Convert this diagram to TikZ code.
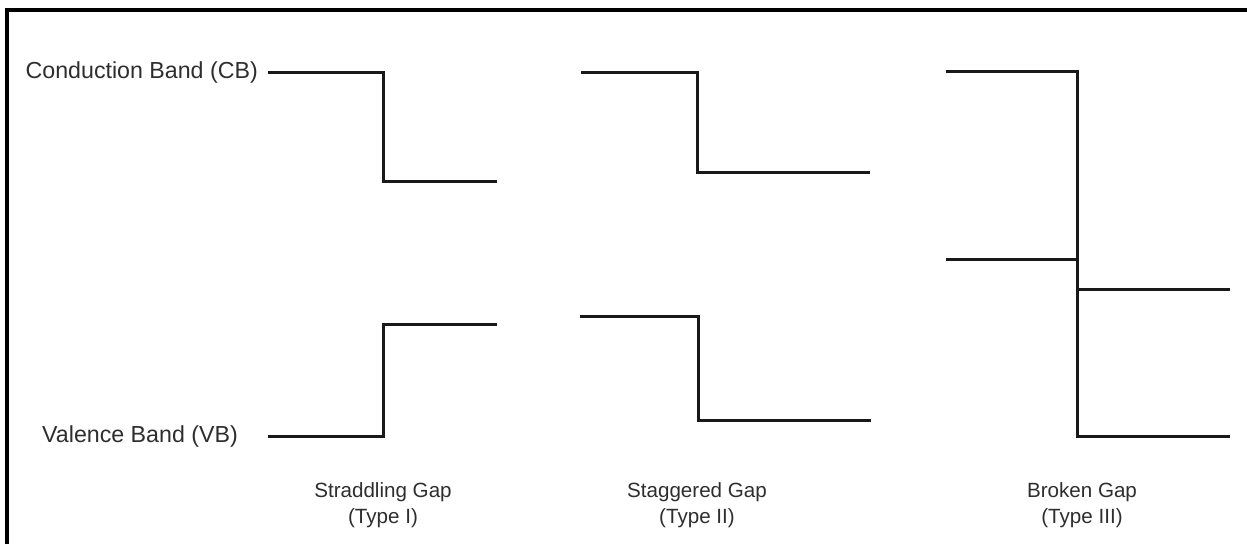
\documentclass[tikz,border=0pt]{standalone}
\usepackage{fontspec}
\setmainfont{Liberation Sans}
\begin{document}
\begin{tikzpicture}[x=1pt,y=-1pt,
  band/.style={line width=3pt, line join=miter, draw=black!90},
  frameline/.style={line width=3.2pt, draw=black},
  sidelbl/.style={font=\fontsize{23.2}{28}\selectfont, text=black!82, inner sep=0pt},
  caplbl/.style={font=\fontsize{20.6}{26}\selectfont, align=center, text=black!82, inner sep=0pt}]
\useasboundingbox (0,0) rectangle (1247,544);
\fill[white] (0,0) rectangle (1247,544);
% partial frame
\coordinate (fb) at (7,544);
\coordinate (fc) at (7,10);
\coordinate (fr) at (1247,10);
\draw[frameline] (fb) -- (fc) -- (fr);
% side labels
\node[sidelbl, anchor=east] (cb) at (258,72) {Conduction Band (CB)};
\node[sidelbl, anchor=east] (vb) at (238,436) {Valence Band (VB)};
% captions
\node[caplbl] (c1) at (383,505) {Straddling Gap\\(Type I)};
\node[caplbl] (c2) at (697,505) {Staggered Gap\\(Type II)};
\node[caplbl] (c3) at (1082,505) {Broken Gap\\(Type III)};
% Type I
\coordinate (a1) at (268,72);
\coordinate (a2) at (383,72);
\coordinate (a3) at (383,181);
\coordinate (a4) at (497,181);
\draw[band] (a1) -- (a2) -- (a3) -- (a4);
\coordinate (b1) at (268,436);
\coordinate (b2) at (383,436);
\coordinate (b3) at (383,324);
\coordinate (b4) at (497,324);
\draw[band] (b1) -- (b2) -- (b3) -- (b4);
% Type II
\coordinate (d1) at (581,72);
\coordinate (d2) at (697,72);
\coordinate (d3) at (697,172);
\coordinate (d4) at (870,172);
\draw[band] (d1) -- (d2) -- (d3) -- (d4);
\coordinate (e1) at (580,316);
\coordinate (e2) at (698,316);
\coordinate (e3) at (698,420);
\coordinate (e4) at (871,420);
\draw[band] (e1) -- (e2) -- (e3) -- (e4);
% Type III
\coordinate (g1) at (946,71);
\coordinate (g2) at (1077,71);
\coordinate (g3) at (1077,436);
\coordinate (g4) at (1230,436);
\draw[band] (g1) -- (g2) -- (g3) -- (g4);
\coordinate (h1) at (946,259);
\coordinate (h2) at (1077,259);
\draw[band] (h1) -- (h2);
\coordinate (k1) at (1077,289);
\coordinate (k2) at (1230,289);
\draw[band] (k1) -- (k2);
\end{tikzpicture}
\end{document}
